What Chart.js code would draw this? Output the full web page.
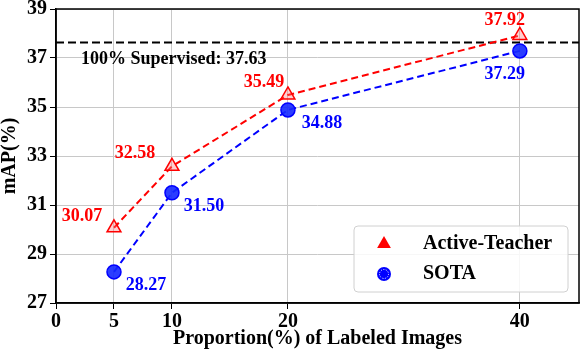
<!DOCTYPE html>
<html>
<head>
<meta charset="utf-8">
<script src="https://cdn.jsdelivr.net/npm/chart.js@4/dist/chart.umd.min.js"></script>
<style>
  html, body { margin: 0; padding: 0; background: #fff; overflow: hidden; }
  #wrap { width: 580px; height: 358px; position: relative; }
</style>
</head>
<body>
<div id="wrap"><canvas id="chart"></canvas></div>
<script>
// data
var proportions = [5, 10, 20, 40];
var activeTeacher = [30.07, 32.58, 35.49, 37.92];
var sota = [28.27, 31.50, 34.88, 37.29];
var xTicks = [0, 5, 10, 20, 40];
var yTicks = [27, 29, 31, 33, 35, 37, 39];
var supervised = 37.63;
var seriesNames = ['Active-Teacher', 'SOTA'];

var FONT = '"Liberation Serif", "Times New Roman", serif';

function toPoints(vals) {
    return proportions.map(function (p, i) { return {x: p, y: vals[i]}; });
}

// per-point label offsets (label centre relative to marker)
var labelOffsets = [
    [[-32, -11], [-37, -13], [-24, -13], [-15, -15]],
    [[32, 13], [32, 14], [34, 13], [-15, 23]]
];

var extrasPlugin = {
    id: 'extras',
    beforeDatasetsDraw: function (chart) {
        var ctx = chart.ctx;
        var a = chart.chartArea;
        var y = chart.scales.y.getPixelForValue(supervised);
        ctx.save();
        // frame
        ctx.strokeStyle = '#000';
        ctx.lineWidth = 1.5;
        ctx.strokeRect(a.left, a.top, a.right - a.left, a.bottom - a.top);
        // 100% supervised line
        ctx.setLineDash([8, 4]);
        ctx.lineWidth = 2;
        ctx.beginPath();
        ctx.moveTo(a.left, y);
        ctx.lineTo(a.right, y);
        ctx.stroke();
        ctx.setLineDash([]);
        ctx.fillStyle = '#000';
        ctx.font = 'bold 18px ' + FONT;
        ctx.textBaseline = 'middle';
        ctx.textAlign = 'left';
        ctx.fillText('100% Supervised: ' + supervised.toFixed(2), a.left + 25, y + 17);
        ctx.restore();
    },
    afterDatasetsDraw: function (chart) {
        var ctx = chart.ctx;
        var a = chart.chartArea;
        ctx.save();
        ctx.font = 'bold 18px ' + FONT;
        ctx.textAlign = 'center';
        ctx.textBaseline = 'middle';
        chart.data.datasets.forEach(function (ds, di) {
            var meta = chart.getDatasetMeta(di);
            meta.data.forEach(function (pt, i) {
                var off = labelOffsets[di][i];
                ctx.fillStyle = ds.borderColor;
                ctx.fillText(ds.data[i].y.toFixed(2), pt.x + off[0], pt.y + off[1]);
            });
        });

        // legend box
        var w = 214, h = 66;
        var bx = a.right - 11 - w, by = a.bottom - 11 - h;
        ctx.fillStyle = 'rgba(255,255,255,0.85)';
        ctx.strokeStyle = '#d0d0d0';
        ctx.lineWidth = 1;
        ctx.beginPath();
        ctx.roundRect(bx, by, w, h, 4);
        ctx.fill();
        ctx.stroke();
        ctx.font = 'bold 20px ' + FONT;
        ctx.textAlign = 'left';
        chart.data.datasets.forEach(function (ds, di) {
            var cy = by + 18 + di * 30;
            ctx.fillStyle = ds.borderColor;
            ctx.strokeStyle = ds.borderColor;
            ctx.beginPath();
            if (ds.pointStyle === 'triangle') {
                ctx.moveTo(bx + 30, cy - 8);
                ctx.lineTo(bx + 30 + 6.9, cy + 4);
                ctx.lineTo(bx + 30 - 6.9, cy + 4);
                ctx.closePath();
                ctx.fill();
            } else {
                ctx.arc(bx + 30, cy, 7, 0, Math.PI * 2);
                ctx.fill();
                ctx.strokeStyle = '#fff';
                ctx.setLineDash([1, 1.5]);
                ctx.beginPath();
                ctx.arc(bx + 30, cy, 4.5, 0, Math.PI * 2);
                ctx.stroke();
                ctx.setLineDash([]);
            }
            ctx.fillStyle = '#000';
            ctx.fillText(ds.label, bx + 69, cy);
        });
        ctx.restore();
    }
};

var ctx = document.getElementById('chart');
var chart = new Chart(ctx, {
    type: 'line',
    data: {
        datasets: [{
            label: seriesNames[0],
            data: toPoints(activeTeacher),
            borderColor: '#ff0000',
            backgroundColor: 'rgba(255,0,0,0.2)',
            borderWidth: 2,
            borderDash: [7, 4],
            pointStyle: 'triangle',
            pointRadius: 8,
            pointBorderWidth: 1.5,
            pointBackgroundColor: 'rgba(255,120,120,0.35)',
            pointBorderColor: '#ff0000',
            fill: false
        }, {
            label: seriesNames[1],
            data: toPoints(sota),
            borderColor: '#0000ff',
            backgroundColor: 'rgba(0,0,255,0.5)',
            borderWidth: 2,
            borderDash: [7, 4],
            pointStyle: 'circle',
            pointRadius: 7,
            pointBorderWidth: 1.5,
            pointBackgroundColor: 'rgba(20,40,255,0.9)',
            pointBorderColor: '#0000ff',
            fill: false
        }]
    },
    options: {
        responsive: true,
        maintainAspectRatio: false,
        animation: false,
        layout: { autoPadding: false, padding: { top: 9, right: 1, left: 0, bottom: 0 } },
        plugins: {
            legend: { display: false },
            tooltip: { enabled: false }
        },
        scales: {
            x: {
                type: 'linear',
                min: 0,
                max: 45.1,
                afterBuildTicks: function (axis) {
                    axis.ticks = xTicks.map(function (v) { return {value: v}; });
                },
                afterFit: function (axis) {
                    axis.height = 55;
                    axis.paddingLeft = 0;
                    axis.paddingRight = 0;
                },
                grid: { color: '#c8c8c8', lineWidth: 1, tickColor: '#000', tickLength: 6 },
                border: { color: '#000', width: 1.5 },
                ticks: {
                    color: '#000',
                    padding: 1,
                    maxRotation: 0,
                    autoSkip: false,
                    font: { family: FONT, size: 20, weight: 'bold' }
                },
                title: {
                    display: true,
                    text: 'Proportion(%) of Labeled Images',
                    color: '#000',
                    padding: { top: 0, bottom: 9 },
                    font: { family: FONT, size: 20, weight: 'bold', lineHeight: 1 }
                }
            },
            y: {
                min: 27,
                max: 39,
                afterBuildTicks: function (axis) {
                    axis.ticks = yTicks.map(function (v) { return {value: v}; });
                },
                afterFit: function (axis) {
                    axis.width = 56;
                    axis.paddingTop = 0;
                    axis.paddingBottom = 0;
                },
                grid: { color: '#c8c8c8', lineWidth: 1, tickColor: '#000', tickLength: 6 },
                border: { color: '#000', width: 1.5 },
                ticks: {
                    color: '#000',
                    padding: 3,
                    font: { family: FONT, size: 20, weight: 'bold' }
                },
                title: {
                    display: true,
                    text: 'mAP(%)',
                    color: '#000',
                    padding: { top: 0, bottom: 0 },
                    font: { family: FONT, size: 20, weight: 'bold', lineHeight: 1 }
                }
            }
        }
    },
    plugins: [extrasPlugin]
});
</script>
</body>
</html>
